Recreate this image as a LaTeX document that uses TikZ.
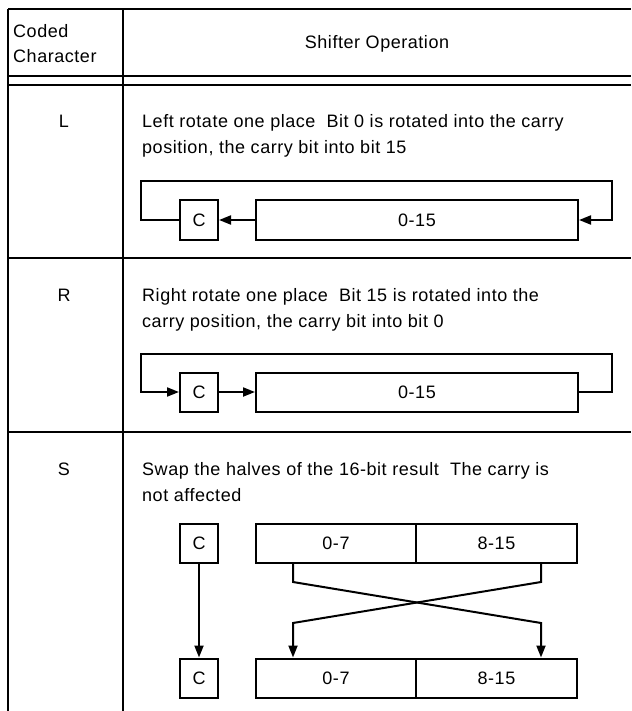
\documentclass[tikz,border=0pt]{standalone}
\usepackage{fontspec}
\setmainfont{Liberation Sans}[LetterSpace=3]
\usetikzlibrary{arrows.meta}
\newcommand\txtfont{\fontsize{18}{21}\selectfont}
\tikzset{
  rule/.style={line width=2pt},
  box/.style={draw, line width=2pt, minimum height=39pt, inner sep=0pt, font=\txtfont},
  lbl/.style={inner sep=0pt, font=\txtfont},
  arr/.style={line width=2pt, -{Triangle[length=12pt,width=9pt]}},
}
\begin{document}
\begin{tikzpicture}[x=1pt,y=-1pt]
\useasboundingbox (0,0) rectangle (631,711);
% table rules
\draw[rule] (8,9) -- (631,9);
\draw[rule] (8,76) -- (631,76);
\draw[rule] (8,85) -- (631,85);
\draw[rule] (8,258) -- (631,258);
\draw[rule] (8,432) -- (631,432);
\draw[rule] (8,9) -- (8,711);
\draw[rule] (123,9) -- (123,711);
% header
\node[lbl, anchor=base west] (h1) at (13,38) {Coded};
\node[lbl, anchor=base west] (h2) at (13,63) {Character};
\node[lbl, anchor=base] (h3) at (377,49) {Shifter Operation};
% row L
\node[lbl, anchor=base] (kL) at (64,128) {L};
\node[lbl, anchor=base west] (tL1) at (142,128) {Left rotate one place\ \ Bit 0 is rotated into the carry};
\node[lbl, anchor=base west] (tL2) at (142,154) {position, the carry bit into bit 15};
\node[box, minimum width=38pt] (LC) at (199,220) {C};
\node[box, minimum width=322pt] (LR) at (417,220) {0-15};
\coordinate (LUL) at (141,181);
\coordinate (LUR) at (612,181);
\draw[arr] (LC.west) -| (LUL) -- (LUR) |- (LR.east);
\draw[arr] (LR.west) -- (LC.east);
% row R
\node[lbl, anchor=base] (kR) at (64,301) {R};
\node[lbl, anchor=base west] (tR1) at (142,301) {Right rotate one place\ \ Bit 15 is rotated into the};
\node[lbl, anchor=base west] (tR2) at (142,327) {carry position, the carry bit into bit 0};
\node[box, minimum width=38pt] (RC) at (199,392) {C};
\node[box, minimum width=322pt] (RR) at (417,392) {0-15};
\coordinate (RUL) at (141,354);
\coordinate (RUR) at (612,354);
\draw[arr] (RR.east) -| (RUR) -- (RUL) |- (RC.west);
\draw[arr] (RC.east) -- (RR.west);
% row S
\node[lbl, anchor=base] (kS) at (64,475) {S};
\node[lbl, anchor=base west] (tS1) at (142,475) {Swap the halves of the 16-bit result\ \ The carry is};
\node[lbl, anchor=base west] (tS2) at (142,501) {not affected};
\node[box, minimum width=38pt] (SC1) at (199,543.5) {C};
\node[box, minimum width=160pt] (SA1) at (336,543.5) {0-7};
\node[box, minimum width=161pt] (SB1) at (496.5,543.5) {8-15};
\node[box, minimum width=38pt] (SC2) at (199,678) {C};
\node[box, minimum width=160pt] (SA2) at (336,678) {0-7};
\node[box, minimum width=161pt] (SB2) at (496.5,678) {8-15};
\draw[arr] (SC1.south) -- (SC2.north);
\coordinate (A1) at (293,582);
\coordinate (A2) at (541,623);
\coordinate (B1) at (541,582);
\coordinate (B2) at (293,623);
\draw[arr] (A1 |- SA1.south) -- (A1) -- (A2) -- (A2 |- SB2.north);
\draw[arr] (B1 |- SB1.south) -- (B1) -- (B2) -- (B2 |- SA2.north);
\end{tikzpicture}
\end{document}
